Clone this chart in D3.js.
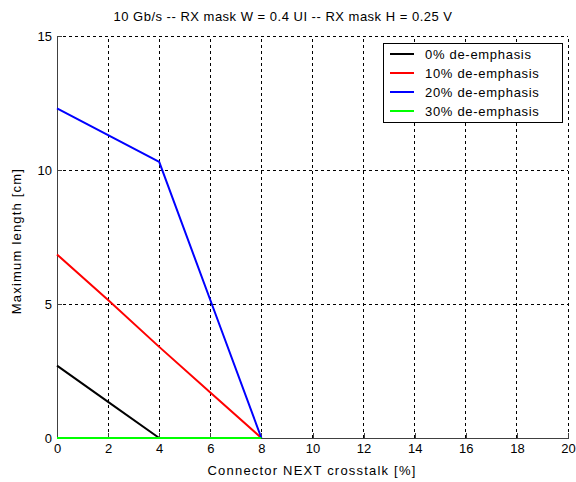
<!DOCTYPE html>
<html>
<head>
<meta charset="utf-8">
<script src="https://cdn.jsdelivr.net/npm/d3@7"></script>
<style>
  body { margin: 0; background: #fff; }
  svg { display: block; font-family: Arial, "Liberation Sans", sans-serif; }
</style>
</head>
<body>
<svg id="chart" width="576" height="482"></svg>
<script>
// Crosstalk values (%) at which each curve is sampled
const crosstalk = [0, 2, 4, 6, 8];
// Maximum reach (cm) for each de-emphasis setting
const deEmph0  = [2.7, 1.35, 0, 0, 0];
const deEmph10 = [6.85, 5.15, 3.4, 1.7, 0];
const deEmph20 = [12.3, 11.3, 10.3, 5.15, 0];
const deEmph30 = [0, 0, 0, 0, 0];
const seriesNames = ["0% de-emphasis", "10% de-emphasis", "20% de-emphasis", "30% de-emphasis"];
const seriesColors = ["#000000", "#ff0000", "#0000ff", "#00ff00"];
const xTicks = [0, 2, 4, 6, 8, 10, 12, 14, 16, 18, 20];
const yTicks = [0, 5, 10, 15];

(function () {
  const series = [deEmph0, deEmph10, deEmph20, deEmph30].map((vals, i) => ({
    name: seriesNames[i], color: seriesColors[i],
    points: crosstalk.map((x, j) => [x, vals[j]])
  }));

  const svg = d3.select("#chart");
  const plotL = 57, plotR = 568, plotT = 36, plotB = 438;
  const x = d3.scaleLinear().domain([0, 20]).range([plotL, plotR]);
  const y = d3.scaleLinear().domain([0, 15]).range([plotB, plotT]);

  // dashed grid
  const grid = svg.append("g").attr("stroke", "#000").attr("stroke-width", 1)
    .attr("stroke-dasharray", "3,3").attr("shape-rendering", "crispEdges");
  xTicks.filter(t => t > 0).forEach(t => {
    grid.append("line").attr("x1", x(t)).attr("x2", x(t)).attr("y1", plotB).attr("y2", plotT);
  });
  yTicks.filter(t => t > 0).forEach(t => {
    grid.append("line").attr("x1", plotL).attr("x2", plotR).attr("y1", y(t)).attr("y2", y(t));
  });

  // axes
  const xAxis = d3.axisBottom(x).tickValues(xTicks).tickSizeInner(-5).tickSizeOuter(0).tickPadding(6);
  const yAxis = d3.axisLeft(y).tickValues(yTicks).tickSizeInner(-5).tickSizeOuter(0).tickPadding(5);
  const gx = svg.append("g").attr("transform", `translate(0,${plotB})`).call(xAxis);
  const gy = svg.append("g").attr("transform", `translate(${plotL},0)`).call(yAxis);
  [gx, gy].forEach(g => {
    g.selectAll("path, line").attr("stroke", "#404040").attr("shape-rendering", "crispEdges");
    g.selectAll("text").attr("font-size", 13).attr("fill", "#000")
      .attr("font-family", "Arial, 'Liberation Sans', sans-serif");
  });
  gx.selectAll("text").attr("dy", "0.71em");

  // data lines
  const line = d3.line().x(d => x(d[0])).y(d => y(d[1]));
  series.forEach(s => {
    svg.append("path").datum(s.points).attr("d", line)
      .attr("fill", "none").attr("stroke", s.color).attr("stroke-width", 2)
      .attr("stroke-linejoin", "round");
  });

  // title and axis labels
  svg.append("text").attr("x", 283).attr("y", 21).attr("text-anchor", "middle")
    .attr("font-size", 13).attr("letter-spacing", 0.5)
    .text("10 Gb/s -- RX mask W = 0.4 UI -- RX mask H = 0.25 V");
  svg.append("text").attr("x", 312).attr("y", 475).attr("text-anchor", "middle")
    .attr("font-size", 13).attr("letter-spacing", 1.2)
    .text("Connector NEXT crosstalk [%]");
  svg.append("text").attr("transform", "translate(21,241) rotate(-90)").attr("text-anchor", "middle")
    .attr("font-size", 13).attr("letter-spacing", 1.2)
    .text("Maximum length [cm]");

  // legend
  const lg = svg.append("g");
  lg.append("rect").attr("x", 383.5).attr("y", 43.5).attr("width", 179).attr("height", 79)
    .attr("fill", "#fff").attr("stroke", "#000").attr("stroke-width", 1);
  series.forEach((s, i) => {
    const yy = 54 + i * 19;
    lg.append("line").attr("x1", 390).attr("x2", 414).attr("y1", yy).attr("y2", yy)
      .attr("stroke", s.color).attr("stroke-width", 2);
    lg.append("text").attr("x", 425).attr("y", yy + 5).attr("font-size", 13)
      .attr("letter-spacing", 0.7).text(s.name);
  });
})();
</script>
</body>
</html>
